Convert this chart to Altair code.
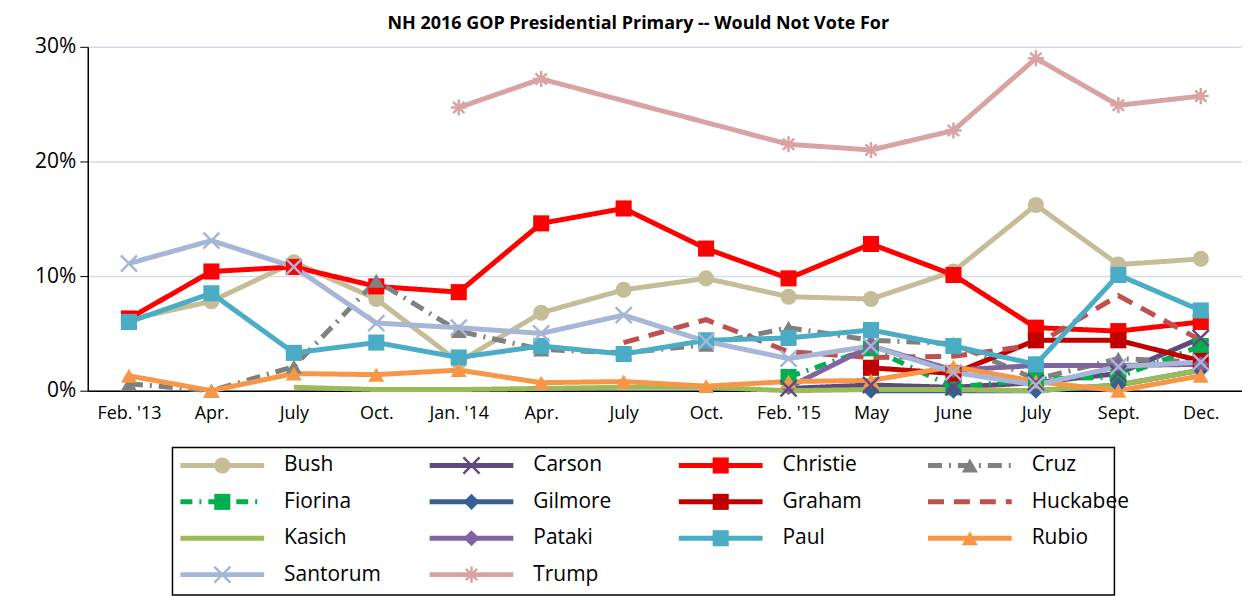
import altair as alt
import pandas as pd

# survey waves
months = ["Feb. '13", "Apr.", "July", "Oct.", "Jan. '14", "Apr.", "July", "Oct.",
          "Feb. '15", "May", "June", "July", "Sept.", "Dec."]

N = None
bush     = [6.2, 7.8, 11.2, 8.0, 2.5, 6.8, 8.8, 9.8, 8.2, 8.0, 10.4, 16.2, 11.0, 11.5]
carson   = [N, N, N, N, N, N, N, N, 0.2, 0.5, 0.3, 0.7, 1.5, 4.6]
christie = [6.3, 10.4, 10.8, 9.1, 8.6, 14.6, 15.9, 12.4, 9.8, 12.8, 10.1, 5.5, 5.2, 6.0]
cruz     = [0.6, 0.0, 2.1, 9.6, 5.2, 3.6, 3.3, 4.0, 5.5, 4.4, 4.1, 1.0, 2.8, 2.5]
fiorina  = [N, N, N, N, N, N, N, N, 1.2, 3.7, 0.3, 1.0, 1.2, 3.9]
gilmore  = [N, N, N, N, N, N, N, N, N, 0.0, 0.0, 0.0, 0.5, 1.8]
graham   = [N, N, N, N, N, N, N, N, N, 2.0, 1.5, 4.4, 4.4, 2.6]
huckabee = [N, N, N, N, N, N, 4.2, 6.2, 3.4, 2.9, 3.0, 4.0, 8.3, 4.4]
kasich   = [N, N, 0.3, 0.1, 0.1, 0.2, 0.3, 0.3, 0.0, 0.1, 0.1, 0.0, 0.5, 1.8]
pataki   = [N, N, N, N, N, N, N, N, 0.3, 3.9, 1.8, 2.2, 2.2, 2.3]
paul     = [6.0, 8.5, 3.3, 4.2, 2.9, 3.9, 3.2, 4.4, 4.6, 5.3, 3.9, 2.3, 10.1, 7.0]
rubio    = [1.3, 0.0, 1.5, 1.4, 1.8, 0.7, 0.8, 0.4, 0.8, 0.9, 2.1, 0.8, 0.0, 1.3]
santorum = [11.1, 13.1, 10.8, 5.9, 5.5, 5.0, 6.6, 4.3, 2.8, 3.9, 1.6, 0.5, 2.1, 2.5]
trump    = [N, N, N, N, 24.7, 27.2, N, N, 21.5, 21.0, 22.7, 29.0, 24.9, 25.7]

names = ["Bush", "Carson", "Christie", "Cruz", "Fiorina", "Gilmore", "Graham",
         "Huckabee", "Kasich", "Pataki", "Paul", "Rubio", "Santorum", "Trump"]
series = [bush, carson, christie, cruz, fiorina, gilmore, graham,
          huckabee, kasich, pataki, paul, rubio, santorum, trump]
colors = ["#C4BD97", "#604A7B", "#FF0000", "#808080", "#00B050", "#376092", "#C00000",
          "#C0504D", "#9BBB59", "#8064A2", "#4BACC6", "#F79646", "#A6B6D6", "#D9A3A3"]
dashes = [[1, 0], [1, 0], [1, 0], [14, 7, 2, 7], [12, 7, 2, 7], [1, 0], [1, 0],
          [16, 10], [1, 0], [1, 0], [1, 0], [1, 0], [1, 0], [1, 0]]
xshape = "M-1,-1L1,1M-1,1L1,-1"
aster = "M-1,0L1,0M0,-1L0,1M-0.7,-0.7L0.7,0.7M-0.7,0.7L0.7,-0.7"
shapes = ["circle", xshape, "square", "triangle-up", "square", "diamond", "square",
          "circle", "circle", "diamond", "square", "triangle-up", xshape, aster]
nomarker = ["Huckabee", "Kasich"]
openmarker = ["Carson", "Santorum", "Trump"]
filledmarker = [n for n in names if n not in nomarker + openmarker]

rows = []
for name, vals in zip(names, series):
    for i, v in enumerate(vals):
        if v is not None:
            rows.append({"name": name, "i": i, "v": v / 100})
df = pd.DataFrame(rows)

labexpr = "[" + ",".join('"%s"' % m.replace("'", "\\'") for m in months) + "][datum.value]"

col = alt.Color("name:N", scale=alt.Scale(domain=names, range=colors), legend=None)
dash = alt.StrokeDash("name:N", scale=alt.Scale(domain=names, range=dashes), legend=None)
shp = alt.Shape("name:N", scale=alt.Scale(domain=names, range=shapes), legend=None)

x = alt.X("i:O", scale=alt.Scale(type="point", padding=0.5),
          axis=alt.Axis(title=None, labelExpr=labexpr, labelAngle=0, ticks=False,
                        labelFontSize=18, labelPadding=14, domainColor="black",
                        domainWidth=1.5, labelColor="black", labelFont="Open Sans"))
y = alt.Y("v:Q", scale=alt.Scale(domain=[0, 0.3]),
          axis=alt.Axis(title=None, values=[0, 0.1, 0.2, 0.3], format=".0%",
                        labelFontSize=21, labelColor="black", labelFont="Open Sans",
                        gridColor="#D6DCE5", gridWidth=1.5, domainColor="black",
                        domainWidth=1.5, tickColor="black", tickSize=8, labelPadding=4))

base = alt.Chart(df).encode(x=x, y=y, color=col)
lines = base.mark_line(strokeWidth=5).encode(strokeDash=dash, detail="name:N")
filled = base.mark_point(filled=True, size=260, opacity=1).encode(shape=shp).transform_filter(
    alt.FieldOneOfPredicate(field="name", oneOf=filledmarker))
opened = base.mark_point(filled=False, size=260, strokeWidth=2.5, opacity=1).encode(
    shape=shp).transform_filter(alt.FieldOneOfPredicate(field="name", oneOf=openmarker))

main = alt.layer(lines, filled, opened).properties(width=1158, height=345)

# legend built from the same series table
leg = pd.DataFrame({"name": names, "k": list(range(len(names)))})
W, H = 1158, 144
lbase = alt.Chart(leg).transform_calculate(
    cxm="135 + (datum.k % 4) * 250",
    cy="18 + floor(datum.k / 4) * 36.5",
    cx="datum.cxm - 42",
    cx2="datum.cxm + 42",
    tx="datum.cxm + 62",
)
lx = alt.Scale(domain=[0, W], range=[0, W])
ly = alt.Scale(domain=[0, H], range=[0, H])
box = alt.Chart(pd.DataFrame({"a": [0]})).mark_rect(
    fill="white", stroke="black", strokeWidth=1.5).encode(
    x=alt.value(85), x2=alt.value(1030), y=alt.value(0), y2=alt.value(H + 4))
lrule = lbase.mark_rule(strokeWidth=5).encode(
    x=alt.X("cx:Q", scale=lx, axis=None), x2="cx2:Q",
    y=alt.Y("cy:Q", scale=ly, axis=None), color=col, strokeDash=dash)
lpt = lbase.mark_point(filled=True, size=260, opacity=1).encode(
    x=alt.X("cxm:Q", scale=lx), y=alt.Y("cy:Q", scale=ly), color=col, shape=shp
).transform_filter(alt.FieldOneOfPredicate(field="name", oneOf=filledmarker))
lpo = lbase.mark_point(filled=False, size=260, strokeWidth=2.5, opacity=1).encode(
    x=alt.X("cxm:Q", scale=lx), y=alt.Y("cy:Q", scale=ly), color=col, shape=shp
).transform_filter(alt.FieldOneOfPredicate(field="name", oneOf=openmarker))
ltxt = lbase.mark_text(align="left", baseline="middle", fontSize=21, font="Open Sans",
                       color="black").encode(
    x=alt.X("tx:Q", scale=lx), y=alt.Y("cy:Q", scale=ly), text="name:N")
legend = alt.layer(box, lrule, lpt, lpo, ltxt).properties(width=W, height=H)

chart = alt.vconcat(main, legend, spacing=24).properties(
    title=alt.Title("NH 2016 GOP Presidential Primary -- Would Not Vote For",
                    fontSize=18, font="Open Sans", fontWeight="bold", anchor="middle",
                    offset=3),
    padding={"left": 26, "top": 6, "right": 0, "bottom": 0},
).configure_view(stroke=None, strokeWidth=0)

chart.save("out.html", embed_options={"renderer": "svg", "actions": False})
